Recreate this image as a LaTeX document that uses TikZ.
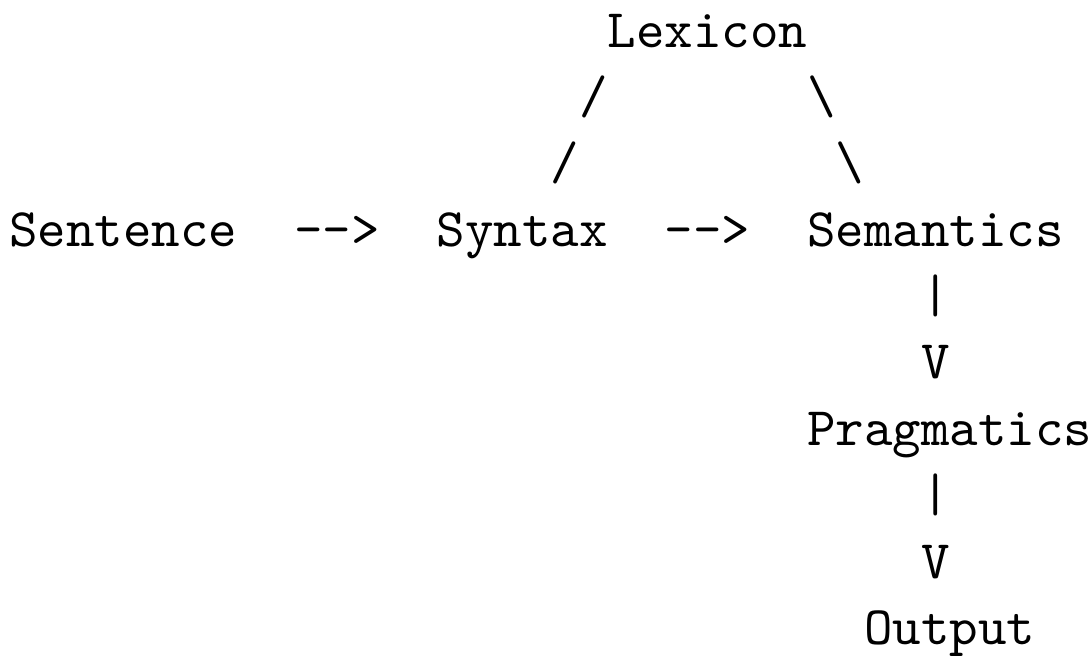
\documentclass[tikz,border=0pt]{standalone}
\begin{document}
\begin{tikzpicture}[x=5.25pt,y=-12.23pt,
  txt/.style={anchor=base west,inner sep=0pt,outer sep=0pt,font=\ttfamily}]
\useasboundingbox (-1.75pt,8.66pt) rectangle (199.45pt,-112.1pt);
\node[txt] (lex) at (21,0) {Lexicon};
\node[txt] (sl1) at (20,1) {/};
\node[txt] (bs1) at (28,1) {\textbackslash};
\node[txt] (sl2) at (19,2) {/};
\node[txt] (bs2) at (29,2) {\textbackslash};
\node[txt] (sen) at (0,3) {Sentence};
\node[txt] (ar1) at (10,3) {-{}-{}>};
\node[txt] (syn) at (15,3) {Syntax};
\node[txt] (ar2) at (23,3) {-{}-{}>};
\node[txt] (sem) at (28,3) {Semantics};
\node[txt] (bar1) at (32,4) {|};
\node[txt] (v1) at (32,5) {V};
\node[txt] (pra) at (28,6) {Pragmatics};
\node[txt] (bar2) at (32,7) {|};
\node[txt] (v2) at (32,8) {V};
\node[txt] (out) at (30,9) {Output};
\end{tikzpicture}
\end{document}
